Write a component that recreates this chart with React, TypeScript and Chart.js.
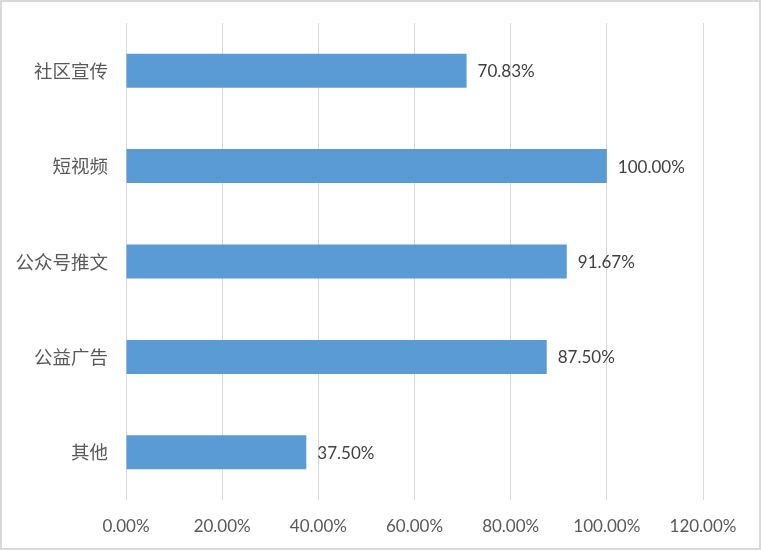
import React, { useEffect, useRef } from "react";
import { Chart, registerables } from "chart.js";

Chart.register(...registerables);

const categories = ["社区宣传", "短视频", "公众号推文", "公益广告", "其他"];
const values = [70.83, 100.0, 91.67, 87.5, 37.5];
const xTicks = [0, 20, 40, 60, 80, 100, 120];

const NUM_FONT = "Lato, 'Noto Sans CJK SC', sans-serif";
const CJK_FONT = "'Noto Sans CJK SC', sans-serif";

export default function App() {
  const ref = useRef<HTMLCanvasElement | null>(null);

  useEffect(() => {
    document.body.style.margin = "0";
    const canvas = ref.current;
    if (!canvas) return;

    const labelPlugin = {
      id: "valueLabels",
      afterDatasetsDraw(chart: any) {
        const ctx = chart.ctx;
        const meta = chart.getDatasetMeta(0);
        ctx.save();
        ctx.font = `17px ${NUM_FONT}`;
        ctx.fillStyle = "#404040";
        ctx.textAlign = "left";
        ctx.textBaseline = "middle";
        meta.data.forEach((bar: any, i: number) => {
          const v = chart.data.datasets[0].data[i] as number;
          ctx.fillText(v.toFixed(2) + "%", bar.x + 11, bar.y + 1);
        });
        ctx.restore();
      },
    };

    const borderPlugin = {
      id: "outerBorder",
      afterDraw(chart: any) {
        const ctx = chart.ctx;
        ctx.save();
        ctx.strokeStyle = "#D9D9D9";
        ctx.lineWidth = 2;
        ctx.strokeRect(1, 1, chart.width - 2, chart.height - 2);
        ctx.restore();
      },
    };

    const chart = new Chart(canvas, {
      type: "bar",
      data: {
        labels: categories,
        datasets: [
          {
            data: values,
            backgroundColor: "#5B9BD5",
            borderWidth: 0,
            categoryPercentage: 1,
            barPercentage: 0.356,
          },
        ],
      },
      options: {
        indexAxis: "y",
        animation: false,
        responsive: false,
        devicePixelRatio: 1,
        layout: { padding: { top: 23, right: 58, left: 0, bottom: 0 } },
        plugins: {
          legend: { display: false },
          tooltip: { enabled: false },
        },
        scales: {
          x: {
            min: 0,
            max: 120,
            afterBuildTicks(scale: any) {
              scale.ticks = xTicks.map((v) => ({ value: v }));
            },
            afterFit(scale: any) {
              scale.height = 50;
              scale.paddingLeft = 0;
              scale.paddingRight = 0;
              scale.paddingTop = 0;
              scale.paddingBottom = 0;
            },
            grid: { color: "#D9D9D9", lineWidth: 1, drawTicks: false },
            border: { display: false },
            ticks: {
              padding: 16,
              color: "#595959",
              font: { size: 17, family: NUM_FONT },
              callback: (v: any) => Number(v).toFixed(2) + "%",
            },
          },
          y: {
            afterFit(scale: any) {
              scale.width = 126;
              scale.paddingTop = 0;
              scale.paddingBottom = 0;
              scale.paddingLeft = 0;
              scale.paddingRight = 0;
            },
            grid: { display: false, drawTicks: false },
            border: { display: false },
            ticks: {
              padding: 18,
              color: "#595959",
              font: { size: 18.5, family: CJK_FONT },
            },
          },
        },
      },
      plugins: [labelPlugin, borderPlugin],
    });

    return () => chart.destroy();
  }, []);

  return (
    <div style={{ width: 761, height: 550 }}>
      <canvas ref={ref} width={761} height={550} style={{ display: "block" }} />
    </div>
  );
}
